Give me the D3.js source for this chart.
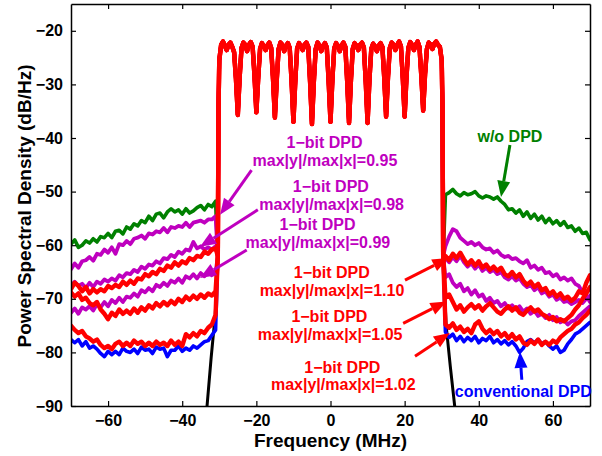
<!DOCTYPE html>
<html>
<head>
<meta charset="utf-8">
<script src="https://cdn.jsdelivr.net/npm/d3@7"></script>
<style>
  body { margin: 0; background: #fff; }
  text { font-family: "Liberation Sans", Arial, Helvetica, sans-serif; font-weight: bold; }
</style>
</head>
<body>
<svg id="chart" width="602" height="456"></svg>
<script>
// Frequency grids (MHz)
const freqL = [-70,-69,-68,-67,-66,-65,-64,-63,-62,-61,-60,-59,-58,-57,-56,-55,-54,-53,-52,-51,
  -50,-49,-48,-47,-46,-45,-44,-43,-42,-41,-40,-39,-38,-37,-36,-35,-34,-33,-32,-31];
const freqR = [31,32,33,34,35,36,37,38,39,40,41,42,43,44,45,46,47,48,49,50,
  51,52,53,54,55,56,57,58,59,60,61,62,63,64,65,66,67,68,69,70];
const bandFreq = [-30.4,-30.2,-30,-29.5,-29,-28.5,-28,-27.5,-27,-26.5,-26,-25.5,-25,-24.5,-24,-23.5,-23,-22.5,-22,-21.5,
  -21,-20.5,-20,-19.5,-19,-18.5,-18,-17.5,-17,-16.5,-16,-15.5,-15,-14.5,-14,-13.5,-13,-12.5,-12,-11.5,
  -11,-10.5,-10,-9.5,-9,-8.5,-8,-7.5,-7,-6.5,-6,-5.5,-5,-4.5,-4,-3.5,-3,-2.5,-2,-1.5,
  -1,-0.5,0,0.5,1,1.5,2,2.5,3,3.5,4,4.5,5,5.5,6,6.5,7,7.5,8,8.5,
  9,9.5,10,10.5,11,11.5,12,12.5,13,13.5,14,14.5,15,15.5,16,16.5,17,17.5,18,18.5,
  19,19.5,20,20.5,21,21.5,22,22.5,23,23.5,24,24.5,25,25.5,26,26.5,27,27.5,28,28.5,
  29,29.5,30,30.2,30.4];

// In-band PSD (dB/Hz), shared by all traces
const band = [-62,-34,-25.5,-22.6,-22.0,-22.8,-23.6,-22.6,-22.2,-23.0,-24.0,-29.0,-35.7,-28.6,-23.2,-22.2,-22.6,-23.8,-22.6,-22.1,
  -23.0,-28.4,-35.2,-28.8,-23.4,-22.3,-22.8,-23.6,-22.7,-22.2,-23.2,-29.0,-36.2,-29.2,-23.4,-22.2,-22.6,-23.8,-22.8,-22.3,
  -23.2,-29.4,-37.0,-29.4,-23.3,-22.3,-22.8,-23.6,-22.6,-22.2,-23.0,-29.6,-37.4,-29.6,-23.4,-22.2,-22.7,-23.8,-22.8,-22.3,
  -23.1,-29.4,-37.0,-29.2,-23.3,-22.3,-22.8,-23.8,-22.7,-22.2,-23.0,-29.4,-37.2,-29.4,-23.4,-22.3,-22.8,-23.6,-22.6,-22.2,
  -23.1,-29.4,-37.2,-29.2,-23.4,-22.4,-22.9,-23.8,-22.8,-22.3,-23.0,-28.8,-36.0,-28.8,-23.2,-22.2,-22.6,-23.6,-22.6,-22.0,
  -22.9,-28.8,-36.0,-28.6,-23.2,-22.1,-22.6,-23.6,-22.6,-22.0,-23.0,-28.4,-34.9,-28.2,-23.4,-22.2,-22.6,-23.4,-22.4,-22.0,
  -22.6,-23.0,-25.5,-34,-62];

// Out-of-band PSD per trace (left side, right side)
const blueL = [-77.6,-78.2,-77.6,-78.8,-78.0,-79.2,-78.8,-79.4,-80.2,-80.8,-79.8,-80.4,-79.8,-80.4,-79.2,-79.8,-80.0,-79.4,-80.2,-79.0,
  -79.6,-79.4,-80.2,-79.0,-79.4,-79.2,-80.8,-79.6,-79.6,-78.8,-79.8,-79.2,-79.6,-78.8,-79.2,-78.6,-78.0,-77.8,-76.8,-75.8];
const blueR = [-76.2,-77.2,-76.6,-77.8,-77.0,-78.0,-77.2,-77.8,-77.0,-78.2,-77.4,-77.8,-77.0,-78.2,-77.6,-78.4,-77.8,-78.6,-78.0,-78.8,
  -80.0,-79.2,-78.0,-77.6,-78.2,-77.6,-78.4,-78.0,-78.8,-79.4,-78.8,-80.0,-79.6,-78.4,-77.6,-76.6,-76.2,-75.6,-75.0,-74.4];

const greenL = [-59.8,-59.0,-60.4,-60.0,-59.2,-59.6,-58.8,-59.4,-58.4,-58.6,-57.8,-58.6,-57.4,-57.2,-57.9,-56.6,-57.0,-56.0,-56.4,-55.4,
  -55.8,-54.6,-55.4,-54.2,-54.0,-54.9,-53.8,-53.2,-53.8,-53.4,-54.2,-53.2,-54.0,-53.6,-53.0,-52.6,-53.4,-52.4,-52.8,-51.8];
const greenR = [-50.6,-50.2,-49.6,-50.4,-50.8,-50.2,-50.6,-50.4,-50.0,-50.8,-51.2,-50.8,-51.0,-51.4,-51.0,-51.8,-52.4,-53.4,-53.2,-54.0,
  -53.4,-54.6,-53.8,-55.0,-54.2,-55.3,-54.6,-55.8,-55.0,-56.0,-55.4,-56.3,-55.6,-56.7,-56.4,-57.4,-56.8,-57.8,-57.6,-59.0];

const mag095L = [-64.5,-63.4,-64.2,-63.0,-62.8,-62.2,-62.9,-61.6,-61.8,-60.8,-61.4,-60.4,-61.6,-59.8,-60.0,-59.2,-59.8,-58.8,-58.6,-58.2,
  -58.8,-57.8,-58.0,-57.4,-57.6,-56.8,-57.6,-56.6,-56.8,-56.4,-56.6,-55.8,-56.6,-55.8,-55.6,-55.4,-55.8,-55.2,-55.2,-54.6];
const mag095R = [-60.2,-58.4,-57.0,-57.4,-58.6,-59.2,-59.8,-59.4,-60.0,-59.6,-60.4,-60.8,-60.6,-61.4,-61.0,-61.8,-62.2,-62.0,-62.6,-62.4,
  -63.0,-63.4,-62.8,-64.2,-63.8,-64.6,-64.2,-65.2,-65.0,-65.8,-65.4,-66.4,-66.0,-66.6,-66.2,-67.2,-67.6,-68.8,-69.4,-70.6];

const mag098L = [-67.6,-66.8,-67.6,-67.2,-68.0,-67.0,-67.8,-66.8,-67.2,-66.4,-66.8,-66.2,-66.6,-65.6,-66.0,-65.2,-65.4,-64.6,-65.0,-64.0,
  -64.4,-63.6,-63.8,-63.0,-63.4,-62.4,-62.6,-61.8,-62.2,-61.2,-61.6,-60.8,-61.0,-59.4,-60.6,-60.2,-60.8,-60.4,-60.8,-60.2];
const mag098R = [-62.4,-63.2,-62.2,-63.0,-62.0,-63.2,-64.0,-63.4,-64.4,-63.6,-64.8,-64.2,-65.0,-64.6,-65.4,-65.0,-66.0,-66.4,-65.8,-66.6,
  -66.2,-67.2,-67.8,-67.4,-68.4,-67.8,-69.0,-68.6,-69.6,-69.2,-70.2,-69.8,-70.6,-70.4,-71.0,-70.6,-70.2,-70.8,-70.0,-69.4];

const mag099L = [-72.6,-71.8,-72.8,-71.6,-72.0,-71.4,-72.2,-71.0,-71.6,-70.6,-71.4,-70.2,-70.8,-69.8,-70.6,-69.6,-69.8,-69.0,-69.6,-68.4,
  -68.8,-68.0,-68.6,-67.4,-67.8,-67.0,-67.6,-66.6,-67.0,-66.2,-67.0,-65.8,-66.2,-65.4,-66.2,-65.2,-65.8,-65.0,-65.6,-65.2];
const mag099R = [-66.0,-65.4,-67.0,-67.8,-67.2,-68.6,-68.0,-69.2,-68.4,-69.6,-69.2,-70.4,-69.8,-70.8,-70.4,-71.4,-70.8,-71.8,-71.2,-72.0,
  -71.4,-72.4,-71.8,-72.8,-72.2,-73.2,-72.8,-73.6,-73.0,-74.0,-73.4,-74.4,-74.0,-74.8,-74.2,-74.0,-73.2,-72.6,-72.0,-71.4];

const red110L = [-68.2,-67.0,-67.6,-68.6,-67.8,-69.0,-68.2,-68.8,-68.2,-68.6,-67.6,-68.0,-67.4,-67.8,-66.8,-67.4,-66.6,-67.2,-66.2,-66.4,
  -65.4,-65.8,-65.0,-65.4,-64.4,-64.8,-63.8,-64.2,-63.2,-63.8,-63.0,-63.4,-62.4,-62.8,-62.0,-62.2,-61.2,-61.6,-60.8,-60.6];
const red110R = [-62.0,-62.8,-61.6,-62.4,-61.4,-62.6,-63.6,-62.8,-63.8,-63.0,-64.2,-63.6,-64.6,-64.0,-64.8,-64.2,-65.4,-65.8,-65.0,-66.0,
  -65.4,-66.6,-67.4,-66.8,-67.8,-67.2,-68.4,-68.0,-69.2,-68.6,-69.6,-69.0,-70.0,-69.6,-70.4,-69.8,-68.6,-69.0,-67.0,-65.6];

const red105L = [-68.8,-69.6,-69.0,-70.2,-69.8,-70.8,-71.2,-70.6,-72.0,-72.8,-73.8,-72.6,-73.2,-72.0,-72.8,-72.2,-72.8,-71.8,-72.6,-71.6,
  -72.2,-71.2,-71.8,-70.8,-71.4,-70.6,-71.2,-70.4,-71.0,-70.0,-70.6,-69.6,-70.2,-69.4,-70.0,-69.2,-69.8,-69.0,-69.4,-68.6];
const red105R = [-69.8,-69.2,-70.6,-72.0,-71.2,-72.4,-71.6,-71.0,-71.8,-71.2,-72.2,-71.4,-70.8,-71.6,-72.4,-72.8,-72.0,-71.4,-72.2,-71.6,
  -72.6,-73.0,-72.2,-71.6,-72.4,-72.0,-72.8,-73.2,-73.8,-73.4,-74.2,-73.8,-74.2,-73.6,-73.0,-72.0,-71.2,-70.0,-69.0,-67.8];

const red102L = [-75.0,-75.8,-76.4,-76.0,-77.0,-77.4,-78.0,-77.6,-78.6,-79.2,-78.8,-79.4,-78.4,-78.0,-78.8,-78.2,-78.8,-77.8,-78.4,-78.0,
  -78.8,-78.2,-78.8,-78.0,-78.6,-78.2,-78.8,-77.8,-78.6,-78.0,-78.8,-76.6,-77.2,-76.4,-77.0,-76.0,-76.4,-75.4,-74.8,-73.0];
const red102R = [-74.8,-75.4,-74.6,-75.8,-75.2,-76.2,-75.6,-76.4,-74.8,-74.2,-75.6,-76.4,-75.8,-76.6,-76.0,-77.0,-76.4,-77.4,-76.6,-77.6,
  -77.0,-78.2,-78.6,-77.8,-78.4,-77.6,-78.6,-78.0,-78.6,-77.8,-78.2,-77.2,-76.6,-76.0,-75.6,-74.8,-74.4,-73.6,-73.0,-72.2];

// Ideal (undistorted) signal: only the steep skirts are visible
const blackFreqL = [-34, -33.3, -32.2, -31.1, -30.6];
const blackL = [-95, -90, -81, -73, -66];
const blackFreqR = [30.6, 31.2, 32.3, 33.5, 34.2];
const blackR = [-66, -75, -82.5, -90, -95];

const xTicks = [-60, -40, -20, 0, 20, 40, 60];
const yTicks = [-90, -80, -70, -60, -50, -40, -30, -20];

const magenta = "#bf00bf", red = "#ff0000", green = "#008000", blue = "#0000ff";

function joinTrace(fl, vl, fr, vr) {
  const pts = [];
  fl.forEach((f, i) => pts.push([f, vl[i]]));
  bandFreq.forEach((f, i) => pts.push([f, band[i]]));
  fr.forEach((f, i) => pts.push([f, vr[i]]));
  return pts;
}

// drawing order: black, blue, green, magenta, red
const traces = [
  { color: "#000", width: 3, pts: joinTrace(blackFreqL, blackL, blackFreqR, blackR) },
  { color: blue, width: 3.6, pts: joinTrace(freqL, blueL, freqR, blueR) },
  { color: green, width: 3.6, pts: joinTrace(freqL, greenL, freqR, greenR) },
  { color: magenta, width: 3.8, pts: joinTrace(freqL, mag095L, freqR, mag095R) },
  { color: magenta, width: 3.8, pts: joinTrace(freqL, mag098L, freqR, mag098R) },
  { color: magenta, width: 3.8, pts: joinTrace(freqL, mag099L, freqR, mag099R) },
  { color: red, width: 4.4, pts: joinTrace(freqL, red110L, freqR, red110R) },
  { color: red, width: 4.4, pts: joinTrace(freqL, red105L, freqR, red105R) },
  { color: red, width: 4.4, pts: joinTrace(freqL, red102L, freqR, red102R) }
];

// text annotations in data units (MHz, dB/Hz), baseline-anchored
const labels = [
  { text: "1\u2212bit DPD", f: -1.6, v: -41.9, color: magenta },
  { text: "max|y|/max|x|=0.95", f: -1.5, v: -45.3, color: magenta },
  { text: "1\u2212bit DPD", f: 0.1, v: -50.0, color: magenta },
  { text: "max|y|/max|x|=0.98", f: 0.3, v: -53.5, color: magenta },
  { text: "1\u2212bit DPD", f: -3.5, v: -57.2, color: magenta },
  { text: "max|y|/max|x|=0.99", f: -3.4, v: -60.6, color: magenta },
  { text: "1\u2212bit DPD", f: 0.35, v: -66.2, color: red },
  { text: "max|y|/max|x|=1.10", f: 0.4, v: -69.5, color: red },
  { text: "1\u2212bit DPD", f: -0.3, v: -74.3, color: red },
  { text: "max|y|/max|x|=1.05", f: -0.1, v: -77.7, color: red },
  { text: "1\u2212bit DPD", f: 3.2, v: -83.9, color: red },
  { text: "max|y|/max|x|=1.02", f: 3.45, v: -87.0, color: red },
  { text: "w/o DPD", f: 48.4, v: -40.7, color: green },
  { text: "conventional DPD", f: 52.0, v: -88.3, color: blue }
];

// arrows: tail (f0, v0) -> head (f1, v1)
const arrows = [
  { f0: -21.3, v0: -46.0, f1: -29.8, v1: -54.3, color: magenta },
  { f0: -19.6, v0: -53.4, f1: -35.2, v1: -60.3, color: magenta },
  { f0: -22.6, v0: -60.9, f1: -35.2, v1: -66.1, color: magenta },
  { f0: 20.1, v0: -66.5, f1: 31.8, v1: -62.4, color: red },
  { f0: 19.6, v0: -74.6, f1: 31.3, v1: -70.5, color: red },
  { f0: 22.8, v0: -80.7, f1: 32.2, v1: -76.4, color: red },
  { f0: 48.4, v0: -41.3, f1: 46.0, v1: -51.0, color: green },
  { f0: 51.6, v0: -85.1, f1: 51.1, v1: -79.9, color: blue }
];

const svg = d3.select("#chart");
const margin = { top: 4, right: 12, bottom: 50, left: 71 };
const width = 602 - margin.left - margin.right;
const height = 456 - margin.top - margin.bottom;

const x = d3.scaleLinear().domain([-70, 70]).range([0, width]);
const y = d3.scaleLinear().domain([-90, -15]).range([height, 0]);

const g = svg.append("g").attr("transform", `translate(${margin.left},${margin.top})`);

g.append("clipPath").attr("id", "plot-clip")
  .append("rect").attr("width", width).attr("height", height);

const line = d3.line().x(d => x(d[0])).y(d => y(d[1]));

g.append("g").attr("clip-path", "url(#plot-clip)")
  .selectAll("path")
  .data(traces)
  .enter()
  .append("path")
  .attr("d", d => line(d.pts))
  .attr("fill", "none")
  .attr("stroke", d => d.color)
  .attr("stroke-width", d => d.width)
  .attr("stroke-linejoin", "round")
  .attr("stroke-linecap", "round");

// axes with inward ticks, box on all four sides
const styleAxis = sel => {
  sel.select(".domain").attr("stroke", "#000").attr("stroke-width", 1.5);
  sel.selectAll(".tick line").attr("stroke", "#000").attr("stroke-width", 1.2);
  sel.selectAll("text").attr("fill", "#000").style("font-size", "16px");
};

g.append("g")
  .attr("transform", `translate(0,${height})`)
  .call(d3.axisBottom(x).tickValues(xTicks).tickSizeInner(-5).tickSizeOuter(0).tickPadding(9))
  .call(styleAxis);

g.append("g")
  .call(d3.axisTop(x).tickValues(xTicks).tickSizeInner(-5).tickSizeOuter(0).tickFormat(""))
  .call(styleAxis);

g.append("g")
  .call(d3.axisLeft(y).tickValues(yTicks).tickSizeInner(-5).tickSizeOuter(0).tickPadding(8))
  .call(styleAxis);

g.append("g")
  .attr("transform", `translate(${width},0)`)
  .call(d3.axisRight(y).tickValues(yTicks).tickSizeInner(-5).tickSizeOuter(0).tickFormat(""))
  .call(styleAxis);

// axis titles
svg.append("text")
  .attr("x", margin.left + x(0))
  .attr("y", 447)
  .attr("text-anchor", "middle")
  .style("font-size", "19px")
  .text("Frequency (MHz)");

svg.append("text")
  .attr("transform", `translate(31,${margin.top + height / 2 + 1}) rotate(-90)`)
  .attr("text-anchor", "middle")
  .style("font-size", "19px")
  .text("Power Spectral Density (dB/Hz)");

// arrows
const headLen = 16, headHalf = 6.5;
arrows.forEach(a => {
  const x0 = x(a.f0), y0 = y(a.v0), x1 = x(a.f1), y1 = y(a.v1);
  const ang = Math.atan2(y1 - y0, x1 - x0);
  const bx = x1 - headLen * Math.cos(ang), by = y1 - headLen * Math.sin(ang);
  g.append("line")
    .attr("x1", x0).attr("y1", y0).attr("x2", bx).attr("y2", by)
    .attr("stroke", a.color).attr("stroke-width", 3);
  const px = -Math.sin(ang) * headHalf, py = Math.cos(ang) * headHalf;
  g.append("polygon")
    .attr("points", `${x1},${y1} ${bx + px},${by + py} ${bx - px},${by - py}`)
    .attr("fill", a.color);
});

// labels
g.selectAll(".label")
  .data(labels)
  .enter()
  .append("text")
  .attr("class", "label")
  .attr("x", d => x(d.f))
  .attr("y", d => y(d.v))
  .attr("text-anchor", "middle")
  .attr("fill", d => d.color)
  .style("font-size", "16px")
  .text(d => d.text);
</script>
</body>
</html>
